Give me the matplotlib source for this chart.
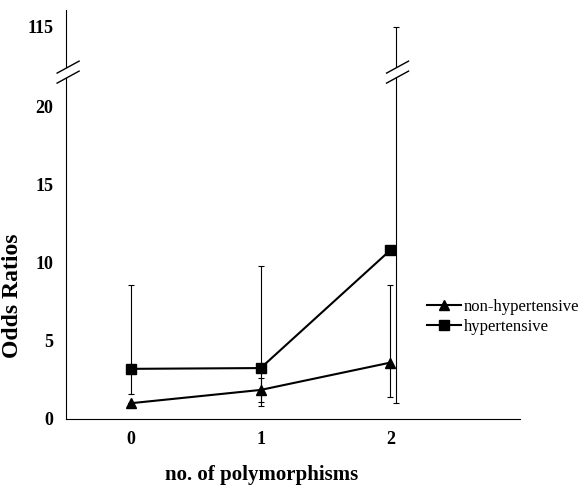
import numpy as np
import matplotlib.pyplot as plt
from matplotlib.lines import Line2D
from matplotlib.patches import Polygon

plt.rcParams['font.family'] = ['Liberation Serif', 'DejaVu Serif']

# data
polymorphisms = [0, 1, 2]
nonhyp_or = [1.0, 1.85, 3.6]
nonhyp_lo = [1.0, 0.8, 1.4]
nonhyp_hi = [1.0, 2.6, 8.6]
hyp_or = [3.2, 3.25, 10.8]
hyp_lo = [1.6, 1.1, 1.0]
hyp_hi = [8.6, 9.8, 115.0]
ytick_vals = [0, 5, 10, 15, 20, 115]

# broken y axis: everything above 21 gets squeezed
K = 0.0436
def fwd(y):
    y = np.asarray(y, dtype=float)
    return np.where(y <= 21, y, 21 + (y - 21) * K)
def inv(t):
    t = np.asarray(t, dtype=float)
    return np.where(t <= 21, t, 21 + (t - 21) / K)

fig = plt.figure(figsize=(5.85, 4.91), dpi=100)
ax = fig.add_axes([0.113, 0.147, 0.776, 0.833])
ax.set_yscale('function', functions=(fwd, inv))

x = np.array(polymorphisms, dtype=float)
nh = np.array(nonhyp_or); h = np.array(hyp_or)
ax.errorbar(x, nh, yerr=[nh - np.array(nonhyp_lo), np.array(nonhyp_hi) - nh],
            fmt='none', ecolor='black', elinewidth=0.8, capsize=2, capthick=0.8)
ax.errorbar(x + np.array([0, 0, 0.04]), h, yerr=[h - np.array(hyp_lo), np.array(hyp_hi) - h],
            fmt='none', ecolor='black', elinewidth=0.8, capsize=2, capthick=0.8)
ax.plot(x, nh, color='black', lw=1.5, marker='^', ms=7, label='non-hypertensive')
ax.plot(x, h, color='black', lw=1.5, marker='s', ms=7, label='hypertensive')

ax.set_xlim(-0.5, 3.0)
ax.set_ylim(0, 140)
ax.set_xticks(polymorphisms)
ax.set_yticks(ytick_vals)
ax.set_yticklabels([str(v) for v in ytick_vals])
ax.tick_params(length=0, labelsize=13, pad=9)
for lab in ax.get_xticklabels() + ax.get_yticklabels():
    lab.set_fontweight('bold')
ax.spines['top'].set_visible(False)
ax.spines['right'].set_visible(False)
ax.set_xlabel('no. of polymorphisms', fontsize=15, fontweight='bold')
ax.xaxis.set_label_coords(0.43, -0.112)
ax.set_ylabel('Odds Ratios', fontsize=17, fontweight='bold')
ax.yaxis.set_label_coords(-0.095, 0.30)

ax.legend(loc='center left', bbox_to_anchor=(0.705, 0.354), bbox_transform=fig.transFigure,
          frameon=False, fontsize=12, handlelength=2.0, handletextpad=0.2, labelspacing=0.25)

# break marks on the y axis and on the long error bar (pixel coords)
fig.canvas.draw()
ybreak = float(inv(22.2))
for xb in [-0.5, 2.04]:
    px, py = ax.transData.transform((xb, ybreak))
    px += 2
    a, b = 11, 6
    gap = 5
    poly = Polygon([(px - a, py - b - gap), (px + a, py + b - gap),
                    (px + a, py + b + gap), (px - a, py - b + gap)],
                   closed=True, facecolor='white', edgecolor='none',
                   transform=None, zorder=5)
    fig.add_artist(poly)
    for d in (-gap, gap):
        fig.add_artist(Line2D([px - a, px + a], [py - b + d, py + b + d],
                              color='black', lw=1.0, transform=None, zorder=6))

fig.savefig('out.png', dpi=100)
